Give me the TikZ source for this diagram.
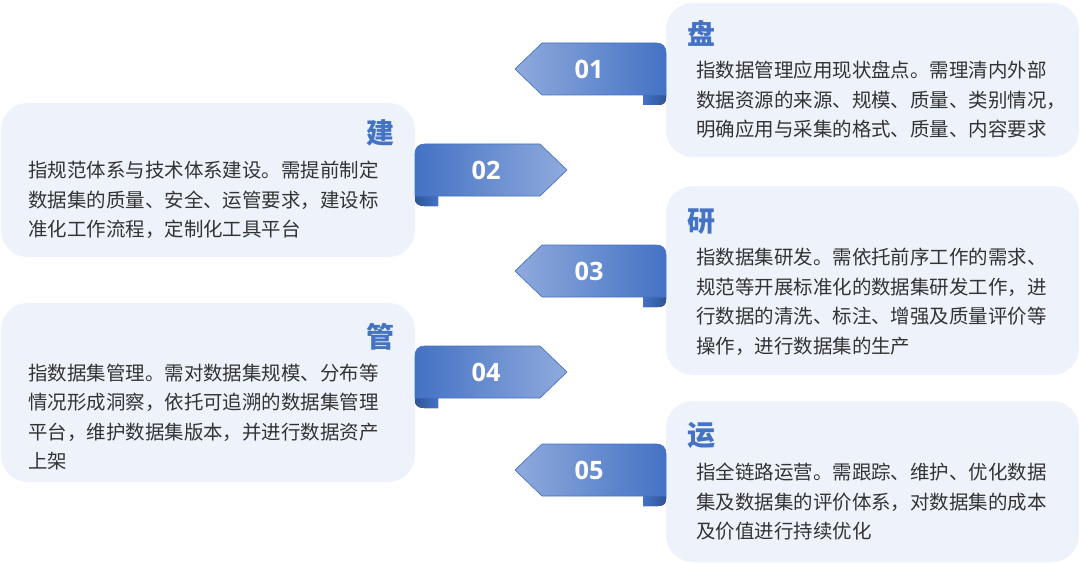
\documentclass[tikz,border=0pt]{standalone}
\usepackage{fontspec}
\setmainfont{Noto Sans CJK SC}
\newfontfamily\numfont{Open Sans}
\usepackage{xcolor}
\usepackage{tikz}

\definecolor{mainblue}{HTML}{4472C4}
\definecolor{lightblue}{HTML}{8FAADC}
\definecolor{darkblue}{HTML}{2F5597}
\definecolor{cardbg}{HTML}{EEF3FB}
\definecolor{bodytext}{HTML}{333333}

\begin{document}
\begin{tikzpicture}[
    x=0.75pt, y=-0.75pt,
    card/.style={fill=cardbg, rounded corners=20pt},
    head/.style={font=\fontsize{21}{21}\selectfont\bfseries, text=mainblue, inner sep=0pt},
    body/.style={font=\fontsize{14.6}{22.1}\selectfont, text=bodytext, align=left, inner sep=0pt, anchor=west},
    num/.style={font=\numfont\bfseries\fontsize{19}{19}\selectfont, text=white, inner sep=0pt},
    ribbonL/.style={left color=lightblue, middle color=mainblue, right color=mainblue, draw=mainblue, line width=0.5pt},
    ribbonR/.style={left color=mainblue, right color=lightblue, draw=mainblue, line width=0.5pt},
    curlL/.style={left color=mainblue, right color=darkblue},
    curlR/.style={left color=darkblue, right color=mainblue}
]
\useasboundingbox (0,0) rectangle (1080,563);

% cards
\fill[card] (666,3) rectangle (1079,157);
\fill[card] (1,103) rectangle (415,257);
\fill[card] (666,186) rectangle (1079,375);
\fill[card] (1,303) rectangle (415,482);
\fill[card] (666,401) rectangle (1079,562);

% ribbons pointing left
\fill[curlL] (643,95) -- (643,105) -- (658,105) .. controls (664,105) and (666,102) .. (666,98) -- (666,95) -- cycle;
\path[ribbonL] (515,69) -- (542,43) -- (656,43) .. controls (663,43) and (666,47) .. (666,53) -- (666,95) -- (542,95) -- cycle;

\fill[curlL] (643,297) -- (643,307) -- (658,307) .. controls (664,307) and (666,304) .. (666,300) -- (666,297) -- cycle;
\path[ribbonL] (515,271) -- (542,245) -- (656,245) .. controls (663,245) and (666,249) .. (666,255) -- (666,297) -- (542,297) -- cycle;

\fill[curlL] (643,496) -- (643,506) -- (658,506) .. controls (664,506) and (666,503) .. (666,499) -- (666,496) -- cycle;
\path[ribbonL] (515,470) -- (542,444) -- (656,444) .. controls (663,444) and (666,448) .. (666,454) -- (666,496) -- (542,496) -- cycle;

% ribbons pointing right
\fill[curlR] (415,196) -- (415,199) .. controls (415,203) and (418,206) .. (424,206) -- (438,206) -- (438,196) -- cycle;
\path[ribbonR] (415,154) .. controls (415,148) and (418,144) .. (425,144) -- (540,144) -- (567,170) -- (540,196) -- (415,196) -- cycle;

\fill[curlR] (415,398) -- (415,401) .. controls (415,405) and (418,408) .. (424,408) -- (438,408) -- (438,398) -- cycle;
\path[ribbonR] (415,356) .. controls (415,350) and (418,346) .. (425,346) -- (540,346) -- (567,372) -- (540,398) -- (415,398) -- cycle;

% numbers
\node[num] (num1) at (589,69) {01};
\node[num] (num2) at (486,170) {02};
\node[num] (num3) at (589,271) {03};
\node[num] (num4) at (486,372) {04};
\node[num] (num5) at (589,470) {05};

% headings
\node[head] (pan) at (701,33) {盘};
\node[head] (jian) at (380,133) {建};
\node[head] (yan) at (701,222) {研};
\node[head] (guan) at (380,337) {管};
\node[head] (yun) at (701,435) {运};

% texts
\node[body] (pantext) at (696,100) {指数据管理应用现状盘点。需理清内外部\\数据资源的来源、规模、质量、类别情况，\\明确应用与采集的格式、质量、内容要求};
\node[body] (jiantext) at (28,200) {指规范体系与技术体系建设。需提前制定\\数据集的质量、安全、运管要求，建设标\\准化工作流程，定制化工具平台};
\node[body] (yantext) at (696,302) {指数据集研发。需依托前序工作的需求、\\规范等开展标准化的数据集研发工作，进\\行数据的清洗、标注、增强及质量评价等\\操作，进行数据集的生产};
\node[body] (guantext) at (28,417) {指数据集管理。需对数据集规模、分布等\\情况形成洞察，依托可追溯的数据集管理\\平台，维护数据集版本，并进行数据资产\\上架};
\node[body] (yuntext) at (696,502) {指全链路运营。需跟踪、维护、优化数据\\集及数据集的评价体系，对数据集的成本\\及价值进行持续优化};
\end{tikzpicture}
\end{document}
